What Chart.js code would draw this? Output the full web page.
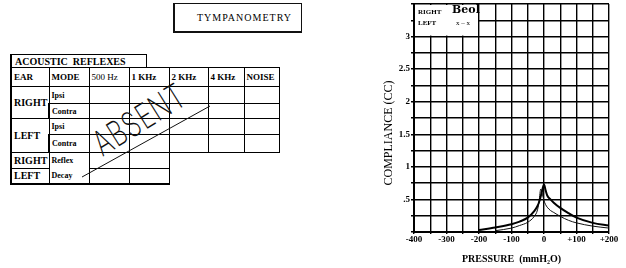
<!DOCTYPE html>
<html>
<head>
<meta charset="utf-8">
<script src="https://cdn.jsdelivr.net/npm/chart.js@4.4.1/dist/chart.umd.min.js"></script>
<style>
    body { margin: 0; width: 626px; height: 268px; background: #fff; position: relative; overflow: hidden; font-family: "Liberation Serif", serif; color: #000; }
    .tymp { position: absolute; left: 173px; top: 3px; width: 104px; height: 27px; border: 1px solid #111; border-left-width: 2px; border-bottom-width: 2px; font-size: 10px; letter-spacing: 1px; line-height: 27px; padding-left: 22px; }
    .acoustic { position: absolute; left: 10px; top: 54px; width: 131px; height: 13px; border: 1px solid #000; border-left-width: 2px; border-bottom: none; font-size: 10px; font-weight: bold; line-height: 14px; padding-left: 3px; white-space: pre; }
    table.reflex { position: absolute; left: 10px; top: 67px; border-collapse: collapse; table-layout: fixed; width: 268px; }
    table.reflex td { border: 1px solid #000; padding: 0 0 0 2px; font-size: 9px; font-weight: bold; white-space: nowrap; overflow: hidden; }
    table.reflex td.ear { font-size: 10px; }
    table.reflex td.mode { font-size: 8px; }
    table.reflex td.hz { font-weight: normal; }
    table.reflex td.out { border: none; }
    table.reflex tr > td:first-child { border-left-width: 2px; }
    table.reflex tr.last td { border-bottom-width: 2px; }
    table.reflex tr.last td.out { border-bottom: none; }
    table.reflex td.nobot { border-bottom: none; }
    table.reflex td.notop { border-top: none; }
    .absent { position: absolute; left: 139px; top: 119px; transform: translate(-50%, -50%) rotate(-32deg) scale(0.95, 1.35); font-family: Inter, "DejaVu Sans", sans-serif; font-weight: 200; font-size: 26px; letter-spacing: 1px; color: #111; white-space: nowrap; }
    svg.slash { position: absolute; left: 0; top: 0; }
    #tympChart { position: absolute; left: 360px; top: 0; }
</style>
</head>
<body>
<div class="tymp">TYMPANOMETRY</div>

<div class="acoustic">ACOUSTIC  REFLEXES</div>
<table class="reflex">
    <colgroup>
        <col style="width:38px"><col style="width:40px"><col style="width:40px"><col style="width:40px"><col style="width:39px"><col style="width:36px"><col style="width:35px">
    </colgroup>
    <tr style="height:19px"><td>EAR</td><td>MODE</td><td class="hz">500 Hz</td><td>1 KHz</td><td>2 KHz</td><td>4 KHz</td><td>NOISE</td></tr>
    <tr style="height:17px"><td class="ear" rowspan="2">RIGHT</td><td class="mode">Ipsi</td><td></td><td></td><td></td><td></td><td></td></tr>
    <tr style="height:15px"><td class="mode">Contra</td><td></td><td></td><td></td><td></td><td></td></tr>
    <tr style="height:16px"><td class="ear" rowspan="2">LEFT</td><td class="mode">Ipsi</td><td></td><td></td><td></td><td></td><td></td></tr>
    <tr style="height:18px"><td class="mode">Contra</td><td></td><td></td><td></td><td></td><td></td></tr>
    <tr style="height:16px"><td class="ear">RIGHT</td><td class="mode nobot">Reflex</td><td></td><td></td><td class="out"></td><td class="out"></td><td class="out"></td></tr>
    <tr class="last" style="height:15px"><td class="ear">LEFT</td><td class="mode notop">Decay</td><td></td><td></td><td class="out"></td><td class="out"></td><td class="out"></td></tr>
</table>
<div class="absent">ABSENT</div>
<svg class="slash" width="300" height="268"><line x1="82" y1="177" x2="210" y2="106" stroke="#111" stroke-width="1"/></svg>

<canvas id="tympChart" width="266" height="268"></canvas>

<script>
// pressure in mmH2O, compliance in cc
var pressures = [-200, -150, -100, -75, -50, -30, -20, -15, -10, -5, 0, 5, 10, 20, 30, 50, 75, 100, 150, 200];
var rightCompliance = [0.03, 0.07, 0.12, 0.16, 0.22, 0.32, 0.40, 0.46, 0.55, 0.65, 0.73, 0.64, 0.56, 0.50, 0.45, 0.37, 0.29, 0.22, 0.14, 0.10];
var leftCompliance = [null, 0.02, 0.06, 0.10, 0.15, 0.24, 0.34, 0.48, 0.66, 0.58, 0.48, 0.42, 0.38, 0.33, 0.30, 0.24, 0.18, 0.14, 0.09, 0.06];

var xLabelValues = [-400, -300, -200, -100, 0, 100, 200];
var xLabelTexts = ['-400', '-300', '-200', '-100', '0', '+100', '+200'];
var yLabelValues = [0.5, 1, 1.5, 2, 2.5, 3];
var yLabelTexts = ['.5', '1', '1.5', '2', '2.5', '3'];

function toPoints(ys) {
    return pressures.map(function (p, i) { return { x: p, y: ys[i] }; })
        .filter(function (pt) { return pt.y !== null; });
}

function findLabel(values, texts, v) {
    for (var i = 0; i < values.length; i++) {
        if (Math.abs(values[i] - v) < 1e-6) return texts[i];
    }
    return '';
}

// white box in the top left corner with the ear key
var keyBox = {
    id: 'keyBox',
    beforeDatasetsDraw: function (chart) {
        var ctx = chart.ctx;
        var xs = chart.scales.x, ys = chart.scales.y;
        var l = xs.getPixelForValue(-400), r = xs.getPixelForValue(-200);
        var t = ys.getPixelForValue(3.5), b = ys.getPixelForValue(3);
        ctx.save();
        ctx.fillStyle = '#fff';
        ctx.fillRect(l + 1, t + 1, r - l - 2, b - t - 2);
        ctx.fillStyle = '#000';
        ctx.textBaseline = 'middle';
        ctx.font = 'bold 7px "Liberation Serif"';
        ctx.fillText('RIGHT', l + 4, t + 8);
        ctx.fillText('LEFT', l + 4, t + 19);
        ctx.font = '7px "Liberation Serif"';
        ctx.fillText('x \u2013 x', l + 42, t + 19);
        ctx.font = 'bold 11px "DejaVu Serif"';
        ctx.fillText('Beol', l + 38, t + 6);
        ctx.restore();
    }
};

var ctx = document.getElementById('tympChart').getContext('2d');
var chart = new Chart(ctx, {
    type: 'line',
    data: {
        datasets: [{
            label: 'RIGHT',
            data: toPoints(rightCompliance),
            borderColor: '#000',
            borderWidth: 2,
            pointRadius: 0,
            cubicInterpolationMode: 'monotone',
            fill: false
        }, {
            label: 'LEFT',
            data: toPoints(leftCompliance),
            borderColor: '#111',
            borderWidth: 1,
            pointRadius: 0,
            cubicInterpolationMode: 'monotone',
            fill: false
        }]
    },
    options: {
        responsive: false,
        animation: false,
        devicePixelRatio: 1,
        layout: { padding: { left: 0, right: 17, top: 4, bottom: 0 } },
        plugins: {
            legend: { display: false },
            tooltip: { enabled: false }
        },
        scales: {
            x: {
                type: 'linear',
                min: -400,
                max: 200,
                grid: { color: '#000', lineWidth: 1.4, tickLength: 2 },
                border: { color: '#000', width: 2 },
                ticks: {
                    stepSize: 50,
                    autoSkip: false,
                    maxRotation: 0,
                    padding: 0,
                    color: '#000',
                    font: { family: 'Liberation Serif', size: 9, weight: 'bold' },
                    callback: function (v) { return findLabel(xLabelValues, xLabelTexts, v); }
                },
                title: {
                    display: true,
                    text: 'PRESSURE  (mmH\u2082O)',
                    color: '#000',
                    font: { family: 'Liberation Serif', size: 10, weight: 'bold' },
                    padding: { top: 0, bottom: 3 }
                },
                afterFit: function (scale) {
                    scale.height = 36;
                    scale.paddingLeft = 0;
                    scale.paddingRight = 0;
                }
            },
            y: {
                min: 0,
                max: 3.5,
                grid: { color: '#000', lineWidth: 1.4, tickLength: 3 },
                border: { color: '#000', width: 2 },
                ticks: {
                    stepSize: 0.25,
                    autoSkip: false,
                    padding: 1,
                    color: '#000',
                    font: { family: 'Liberation Serif', size: 9, weight: 'bold' },
                    callback: function (v) { return findLabel(yLabelValues, yLabelTexts, v); }
                },
                title: {
                    display: true,
                    // trailing spaces push the title a little below the middle, as on the form
                    text: 'COMPLIANCE (CC)\u2003\u2003\u2002',
                    color: '#000',
                    font: { family: 'Liberation Serif', size: 12 },
                    padding: { top: 22, bottom: 0 }
                },
                afterFit: function (scale) {
                    scale.width = 54;
                    scale.paddingTop = 0;
                    scale.paddingBottom = 0;
                }
            }
        }
    },
    plugins: [keyBox]
});
</script>
</body>
</html>
